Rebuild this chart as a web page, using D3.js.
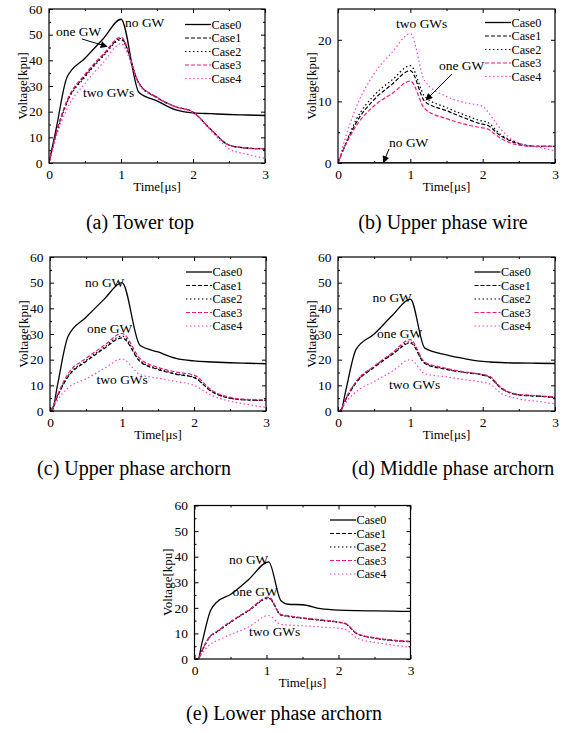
<!DOCTYPE html>
<html><head><meta charset="utf-8">
<script src="https://cdn.jsdelivr.net/npm/d3@7"></script>
<style>
body{margin:0;background:#fff}
svg{display:block}
text{font-family:"Liberation Serif","Times New Roman",serif;fill:#000}
</style>
</head><body>
<svg id="chart" width="579" height="733"></svg>
<script>
// ---------- data ----------
const caseNames = ["Case0", "Case1", "Case2", "Case3", "Case4"];
const panelCaptions = ["(a) Tower top", "(b) Upper phase wire", "(c) Upper phase archorn", "(d) Middle phase archorn", "(e) Lower phase archorn"];
const xTickLabels = [0, 1, 2, 3];
const xMinorTicks = [0.5, 1.5, 2.5];
const yTicks60 = [0, 10, 20, 30, 40, 50, 60];
const yTicks25 = [0, 10, 20];
const xLabel = "Time[μs]";
const yLabel = "Voltage[kpu]";

// (a) Tower top
const timeA = [0, 0.05, 0.1, 0.25, 0.5, 0.75, 1.0, 1.25, 1.5, 1.75, 2.0, 2.25, 2.5, 2.75, 3.0];
const towerTop0 = [0, 6.7, 13.4, 33.4, 40.8, 48.3, 56, 27.5, 24.2, 20.8, 19.5, 19.2, 18.9, 18.7, 18.5];
const towerTop1 = [0, 6, 11.5, 24, 34, 42, 48.5, 31, 25.5, 22, 19.8, 13, 7, 5.8, 5.5];
const towerTop2 = [0, 5.8, 11, 23.5, 33.5, 41.5, 48, 31, 25.5, 22, 19.8, 13, 7, 5.8, 5.5];
const towerTop3 = [0, 6, 11.6, 24.3, 34.5, 42.3, 49, 31.2, 25.6, 22, 19.8, 13, 7, 5.8, 5.5];
const towerTop4 = [0, 5, 10, 21, 31, 39, 46.5, 30.5, 25.2, 21.8, 19.6, 12.5, 5.5, 3.4, 1.8];

// (b) Upper phase wire
const timeB = [0, 0.1, 0.25, 0.5, 0.75, 1.0, 1.2, 1.5, 1.75, 2.0, 2.05, 2.25, 2.5, 2.75, 3.0];
const upperWire0 = [0, 0, 0, 0, 0, 0, 0, 0, 0, 0, 0, 0, 0, 0, 0];
const upperWire1 = [0, 2.9, 6.5, 10.3, 12.8, 15, 10, 8.5, 7.3, 6.3, 6.2, 4.4, 3.1, 2.7, 2.7];
const upperWire2 = [0, 3.0, 7, 11, 13.5, 15.8, 10.8, 9, 7.8, 6.8, 6.7, 4.6, 3.2, 2.7, 2.7];
const upperWire3 = [0, 2.8, 6, 9.3, 11.3, 13.3, 8.8, 7.2, 6.3, 5.7, 5.6, 4.0, 2.9, 2.7, 2.7];
const upperWire4 = [0, 4.0, 9, 14.5, 18, 21, 13.3, 10.8, 9.8, 9.2, 8.6, 5.5, 3.2, 2.6, 2.0];

// (c) Upper phase archorn
const timeC = [0, 0.03, 0.1, 0.25, 0.5, 0.75, 1.0, 1.25, 1.5, 1.75, 2.0, 2.25, 2.5, 2.75, 3.0];
const upperHorn0 = [0, 0, 9.5, 29, 36.5, 43.5, 50, 25.6, 23, 20.5, 19.5, 19.1, 18.8, 18.6, 18.4];
const upperHorn1 = [0, 1, 5.5, 13.3, 19.3, 24.3, 28.5, 19.3, 16.2, 14.3, 13, 7.5, 5, 4.3, 4.1];
const upperHorn2 = [0, 1, 5.7, 13.6, 19.7, 24.8, 29.2, 19.6, 16.5, 14.5, 13.2, 7.6, 5, 4.3, 4.1];
const upperHorn3 = [0, 1.1, 6, 14.5, 20.5, 25.5, 30.2, 20.4, 17, 15.2, 14, 8, 5.3, 4.5, 4.3];
const upperHorn4 = [0, 0.7, 4, 9, 12.5, 16.5, 20.3, 14.2, 12.8, 11.5, 10, 6, 3.8, 2.5, 1.4];

// (d) Middle phase archorn
const timeD = [0, 0.04, 0.1, 0.25, 0.5, 0.75, 1.0, 1.2, 1.5, 1.75, 2.0, 2.1, 2.25, 2.5, 2.75, 3.0];
const middleHorn0 = [0, 0, 7, 24, 30, 37.2, 43.6, 24.5, 21.9, 20.4, 19.3, 19.1, 18.9, 18.7, 18.6, 18.5];
const middleHorn1 = [0, 0.5, 4, 11, 17, 22, 26.5, 18.5, 16.2, 15, 14, 13, 9, 6.3, 5.8, 5.3];
const middleHorn2 = [0, 0.5, 4.2, 11.3, 17.3, 22.3, 27, 18.7, 16.4, 15.1, 14.1, 13.2, 9, 6.3, 5.8, 5.3];
const middleHorn3 = [0, 0.5, 4.5, 11.5, 17.5, 22.7, 27.8, 19, 16.6, 15.2, 14.2, 13.5, 9.2, 6.5, 6, 5.5];
const middleHorn4 = [0, 0.3, 3, 7.5, 11.5, 15.5, 20, 14.5, 13.3, 12.2, 11.2, 10.5, 7, 4.7, 3.8, 2.8];

// (e) Lower phase archorn
const timeE = [0, 0.05, 0.1, 0.22, 0.3, 0.5, 0.75, 1.03, 1.2, 1.3, 1.5, 1.75, 2.0, 2.1, 2.25, 2.5, 2.75, 3.0];
const lowerHorn0 = [0, 0, 5.8, 18.8, 22, 25.2, 31, 38, 22.8, 21.4, 21.2, 19.7, 19.1, 19.0, 18.9, 18.8, 18.7, 18.6];
const lowerHorn1 = [0, 0, 3, 9, 10.5, 14.5, 19, 24, 17.3, 16.8, 16, 15.2, 14.4, 13.8, 10, 8.2, 7.3, 6.8];
const lowerHorn2 = [0, 0, 2.9, 8.8, 10.3, 14.3, 18.8, 23.7, 17.1, 16.6, 15.9, 15.1, 14.3, 13.7, 10, 8.1, 7.2, 6.7];
const lowerHorn3 = [0, 0, 3, 9, 10.6, 14.6, 19.1, 24.2, 17.4, 16.9, 16.1, 15.3, 14.5, 13.9, 10.1, 8.3, 7.4, 6.9];
const lowerHorn4 = [0, 0, 2, 5.8, 7, 9.5, 12.5, 17, 13.5, 13.3, 13, 12.5, 12, 11.5, 8.3, 6.5, 5.5, 4.5];

const annotationTexts = {no: "no GW", one: "one GW", two: "two GWs"};

// ---------- layout ----------
const panels = [
  {time: timeA, series: [towerTop0, towerTop1, towerTop2, towerTop3, towerTop4], yMax: 60, yTicks: yTicks60,
   box: {l: 49, r: 265, t: 9, b: 163}, legendX: 185, legendY: 24.5,
   caption: {x: 140, y: 229},
   notes: [{k: "no", x: 125, y: 27}, {k: "one", x: 56, y: 35.5}, {k: "two", x: 83, y: 96.5}],
   arrows: [[82, 39, 107, 46.5]]},
  {time: timeB, series: [upperWire0, upperWire1, upperWire2, upperWire3, upperWire4], yMax: 25, yTicks: yTicks25,
   box: {l: 338, r: 555, t: 9, b: 163}, legendX: 485, legendY: 22.5,
   caption: {x: 443, y: 229},
   notes: [{k: "two", x: 396, y: 28}, {k: "one", x: 439, y: 70}, {k: "no", x: 389, y: 146.5}],
   arrows: [[452, 74, 426, 100], [389, 149, 383.5, 162.5]]},
  {time: timeC, series: [upperHorn0, upperHorn1, upperHorn2, upperHorn3, upperHorn4], yMax: 60, yTicks: yTicks60,
   box: {l: 50, r: 266, t: 257, b: 411}, legendX: 186, legendY: 272,
   caption: {x: 134, y: 475},
   notes: [{k: "no", x: 85, y: 287}, {k: "one", x: 87, y: 333}, {k: "two", x: 96.5, y: 384}],
   arrows: []},
  {time: timeD, series: [middleHorn0, middleHorn1, middleHorn2, middleHorn3, middleHorn4], yMax: 60, yTicks: yTicks60,
   box: {l: 338, r: 555, t: 257, b: 411}, legendX: 474.5, legendY: 272,
   caption: {x: 453, y: 475},
   notes: [{k: "no", x: 372.5, y: 302}, {k: "one", x: 377, y: 338}, {k: "two", x: 389, y: 389}],
   arrows: []},
  {time: timeE, series: [lowerHorn0, lowerHorn1, lowerHorn2, lowerHorn3, lowerHorn4], yMax: 60, yTicks: yTicks60,
   box: {l: 194.5, r: 410.5, t: 505.5, b: 659}, legendX: 330, legendY: 520,
   caption: {x: 284, y: 720},
   notes: [{k: "no", x: 229, y: 564}, {k: "one", x: 232.5, y: 596}, {k: "two", x: 249, y: 636}],
   arrows: []}
];
panels.forEach((p, i) => p.captionText = panelCaptions[i]);

const lineStyles = [
  {color: "#000000", dash: null, w: 1.3},
  {color: "#000000", dash: "4,2", w: 1.2},
  {color: "#000000", dash: "1.5,2.5", w: 1.2},
  {color: "#ee1a82", dash: "4,2", w: 1.2},
  {color: "#ff40cc", dash: "1.5,2.5", w: 1.2}
];

const FS = 13.5;
const LEG_FS = 12.2, LEG_STEP = 13.5;
const svg = d3.select("#chart");
svg.append("rect").attr("width", 579).attr("height", 733).attr("fill", "#fff");
const defs = svg.append("defs");
defs.append("marker")
  .attr("id", "arr").attr("viewBox", "0 0 10 10").attr("refX", 9).attr("refY", 5)
  .attr("markerWidth", 9).attr("markerHeight", 7).attr("markerUnits", "userSpaceOnUse")
  .attr("orient", "auto")
  .append("path").attr("d", "M0,0 L10,5 L0,10 Z").attr("fill", "#000");

panels.forEach((p, pi) => {
  const b = p.box;
  const x = d3.scaleLinear().domain([0, 3]).range([b.l, b.r]);
  const y = d3.scaleLinear().domain([0, p.yMax]).range([b.b, b.t]);
  const g = svg.append("g");
  const yMinor = d3.range(5, p.yMax, 10);

  const styleAxis = sel => {
    sel.attr("font-family", null);
    sel.select(".domain").remove();
    sel.selectAll("line").attr("stroke", "#000").attr("stroke-width", 1);
    sel.selectAll("text").attr("font-size", FS);
  };
  const bare = sel => { styleAxis(sel); sel.selectAll("text").remove(); };

  // bottom
  g.append("g").attr("transform", `translate(0,${b.b})`)
    .call(d3.axisBottom(x).tickValues(xTickLabels).tickSize(-4).tickPadding(6.7).tickFormat(d3.format("d")))
    .call(styleAxis);
  g.append("g").attr("transform", `translate(0,${b.b})`)
    .call(d3.axisBottom(x).tickValues(xMinorTicks).tickSize(-2)).call(bare);
  // top
  g.append("g").attr("transform", `translate(0,${b.t})`)
    .call(d3.axisTop(x).tickValues(xTickLabels).tickSize(-4)).call(bare);
  g.append("g").attr("transform", `translate(0,${b.t})`)
    .call(d3.axisTop(x).tickValues(xMinorTicks).tickSize(-2)).call(bare);
  // left
  g.append("g").attr("transform", `translate(${b.l},0)`)
    .call(d3.axisLeft(y).tickValues(p.yTicks).tickSize(-4).tickPadding(6.5).tickFormat(d3.format("d")))
    .call(styleAxis);
  g.append("g").attr("transform", `translate(${b.l},0)`)
    .call(d3.axisLeft(y).tickValues(yMinor).tickSize(-2)).call(bare);
  // right
  g.append("g").attr("transform", `translate(${b.r},0)`)
    .call(d3.axisRight(y).tickValues(p.yTicks).tickSize(-4)).call(bare);
  g.append("g").attr("transform", `translate(${b.r},0)`)
    .call(d3.axisRight(y).tickValues(yMinor).tickSize(-2)).call(bare);

  // series
  const clipId = "clip" + pi;
  defs.append("clipPath").attr("id", clipId)
    .append("rect").attr("x", b.l).attr("y", b.t - 1).attr("width", b.r - b.l).attr("height", b.b - b.t + 1);
  const line = d3.line().x((d, i) => x(p.time[i])).y(d => y(d)).curve(d3.curveMonotoneX);
  p.series.forEach((s, k) => {
    const st = lineStyles[k];
    g.append("path").datum(s).attr("d", line)
      .attr("fill", "none").attr("stroke", st.color).attr("stroke-width", st.w)
      .attr("stroke-dasharray", st.dash).attr("clip-path", `url(#${clipId})`);
  });

  // frame
  g.append("rect").attr("x", b.l).attr("y", b.t).attr("width", b.r - b.l).attr("height", b.b - b.t)
    .attr("fill", "none").attr("stroke", "#000").attr("stroke-width", 1.2);

  // legend
  caseNames.forEach((name, k) => {
    const st = lineStyles[k];
    const ly = p.legendY + k * LEG_STEP;
    g.append("line").attr("x1", p.legendX).attr("x2", p.legendX + 26).attr("y1", ly).attr("y2", ly)
      .attr("stroke", st.color).attr("stroke-width", st.w).attr("stroke-dasharray", st.dash);
    g.append("text").attr("x", p.legendX + 26.5).attr("y", ly).attr("dy", "0.35em")
      .attr("font-size", LEG_FS).text(name);
  });

  // axis titles
  g.append("text").attr("x", (b.l + b.r) / 2).attr("y", b.b + 27.5).attr("text-anchor", "middle")
    .attr("font-size", 13).text(xLabel);
  g.append("text").attr("transform", `translate(${b.l - 27},${(b.t + b.b) / 2}) rotate(-90)`)
    .attr("text-anchor", "middle").attr("dy", "0.35em").attr("font-size", 13).text(yLabel);

  // annotations
  p.notes.forEach(n => {
    g.append("text").attr("x", n.x).attr("y", n.y).attr("font-size", FS).text(annotationTexts[n.k]);
  });
  p.arrows.forEach(a => {
    g.append("line").attr("x1", a[0]).attr("y1", a[1]).attr("x2", a[2]).attr("y2", a[3])
      .attr("stroke", "#000").attr("stroke-width", 1).attr("marker-end", "url(#arr)");
  });

  // caption
  svg.append("text").attr("x", p.caption.x).attr("y", p.caption.y).attr("text-anchor", "middle")
    .attr("font-size", 20).text(p.captionText);
});
</script>
</body></html>
